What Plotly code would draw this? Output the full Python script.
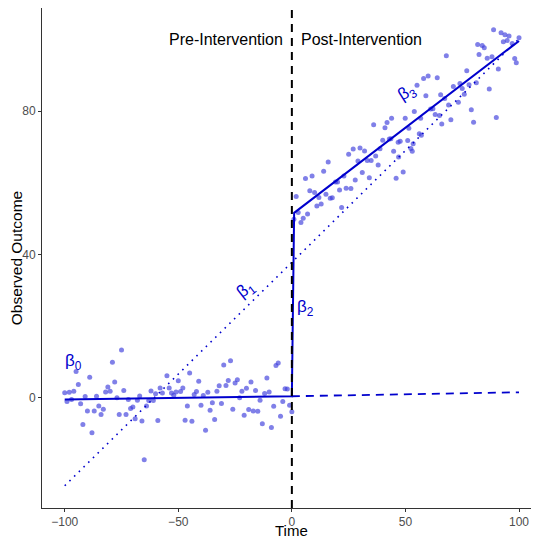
import plotly.graph_objects as go

# ---- data ----
pre_time = [-100, -99, -98, -97, -96, -95, -94, -93, -92, -91, -90, -89, -88, -87, -86, -85, -84, -83, -82, -81,
            -80, -79, -78, -77, -76, -75, -74, -73, -72, -71, -70, -69, -68, -67, -66, -65, -64, -63, -62, -61,
            -60, -59, -58, -57, -55, -54, -53, -52, -51, -50, -49, -48, -47, -46, -45, -44, -43, -42, -41, -40,
            -39, -38, -37, -36, -35, -34, -33, -32, -31, -30, -29, -28, -27, -26, -25, -24, -23, -22, -21, -20,
            -19, -18, -17, -16, -15, -14, -13, -12, -11, -10, -9, -8, -7, -6, -5, -4, -3, -2, -1, 0]
pre_outcome = [1.4, -1.1, 1.5, -0.5, 1.8, 7.3, 3.7, -1.7, -7.5, 0.3, -3.7, 5.7, -9.8, -3.7, 0.4, -2.3, -4.7, -3.2, 1.6, 3.0,
               1.8, 9.9, 4.4, 0.0, -4.7, 13.3, 2.0, -4.7, -0.5, -3.0, -2.6, -5.9, -0.7, 0.5, -6.5, -17.3, -2.3, -0.8, 1.9, -0.8,
               1.1, -6.4, 2.7, 1.3, 6.1, 2.7, 1.3, 0.7, 1.6, 4.7, 1.7, 2.7, -6.3, -2.3, 6.9, -6.6, 0.9, 1.7, 4.6, -2.1,
               0.6, -9.1, 1.5, -3.5, -1.4, -6.1, 1.8, 3.3, -1.6, 9.1, 3.4, 4.8, 10.3, -3.2, 4.1, 5.0, 0.0, 1.8, -4.9, 2.6,
               -3.3, 4.4, -3.7, 2.0, -3.8, -0.7, -7.3, 1.2, 5.5, 1.6, -8.3, -2.4, 9.0, 9.7, -5.2, -1.1, 2.5, 2.4, -2.1, -3.9]

post_time = [0.9, 1.9, 2.8, 4.0, 5.0, 6.0, 6.9, 7.9, 8.9, 10.0, 11.0, 11.9, 12.9, 14.0, 15.0, 16.0, 16.9, 17.8, 19.2, 20.1,
             21.0, 21.9, 22.9, 23.9, 25.0, 26.0, 27.0, 27.9, 29.1, 30.0, 31.0, 32.0, 33.2, 34.1, 34.9, 36.0, 36.9, 38.0, 38.8, 40.0,
             41.0, 41.9, 42.9, 43.6, 43.9, 44.8, 45.9, 46.8, 47.0, 47.7, 49.0, 49.9, 51.0, 51.5, 52.4, 53.0, 53.4, 53.9, 55.1, 56.1,
             56.7, 57.0, 58.0, 59.0, 60.0, 61.1, 62.1, 63.1, 64.0, 65.0, 65.5, 66.0, 67.3, 68.0, 69.0, 70.0, 71.1, 73.3, 74.0, 75.0,
             75.9, 77.0, 78.0, 79.0, 80.0, 81.2, 81.8, 82.4, 83.8, 84.7, 86.0, 86.9, 88.1, 88.8, 90.0, 90.9, 92.1, 93.1, 93.8, 94.8,
             95.6, 97.0, 98.1, 98.8, 100.0]
post_outcome = [49.8, 56.2, 51.7, 48.9, 50.1, 61.2, 51.3, 57.8, 61.9, 57.3, 53.5, 55.9, 54.1, 63.2, 56.8, 65.8, 55.7, 55.8, 60.2, 60.2,
                58.0, 53.1, 61.9, 58.5, 68.0, 58.4, 69.4, 60.8, 66.1, 69.7, 62.9, 68.9, 66.2, 61.4, 66.2, 76.2, 67.5, 65.0, 69.5, 71.9,
                75.4, 76.8, 72.2, 72.3, 78.0, 68.8, 61.3, 71.3, 67.2, 71.6, 63.0, 78.0, 71.8, 75.2, 69.6, 68.8, 70.9, 79.9, 87.2, 73.7,
                78.0, 73.3, 89.1, 84.3, 89.8, 80.6, 80.7, 79.1, 89.3, 78.8, 84.6, 76.4, 83.5, 95.5, 81.7, 77.6, 86.9, 82.5, 87.7, 86.3,
                84.7, 91.3, 87.4, 80.4, 76.9, 87.9, 98.6, 95.8, 98.3, 97.7, 94.8, 86.2, 95.2, 102.7, 78.2, 91.8, 101.9, 99.4, 101.3, 99.7,
                101.0, 98.9, 94.7, 93.5, 100.5]

# fitted segmented regression line
fit_time = [-100, 0, 1, 100]
fit_value = [-0.5, 0.4, 51.6, 99.6]
# counterfactual (pre-trend extended)
cf_time = [0, 100]
cf_value = [0.4, 1.5]
# naive single trend
naive_time = [-100, 100]
naive_value = [-24.6, 100.2]

x_ticks = [-100, -50, 0, 50, 100]
y_ticks = [0, 40, 80]

BLUE = "#0000CD"
FONT = "Liberation Sans, Arial, sans-serif"

fig = go.Figure()
fig.add_trace(go.Scatter(x=pre_time + post_time, y=pre_outcome + post_outcome, mode="markers",
                         marker=dict(size=5, color="rgba(60,60,220,0.65)", line=dict(width=0)),
                         hoverinfo="skip"))
fig.add_trace(go.Scatter(x=naive_time, y=naive_value, mode="lines",
                         line=dict(color=BLUE, width=1.6, dash="1.6px,5px")))
fig.add_trace(go.Scatter(x=cf_time, y=cf_value, mode="lines",
                         line=dict(color=BLUE, width=1.8, dash="8px,6px")))
fig.add_trace(go.Scatter(x=fit_time, y=fit_value, mode="lines",
                         line=dict(color=BLUE, width=2)))

fig.add_shape(type="line", x0=0, x1=0, xref="x", y0=0, y1=1, yref="paper",
              line=dict(color="black", width=2, dash="8px,6px"))

fig.add_annotation(x=-3, y=100, text="Pre-Intervention", showarrow=False, xanchor="right",
                   font=dict(size=16, color="black", family=FONT))
fig.add_annotation(x=3, y=100, text="Post-Intervention", showarrow=False, xanchor="left",
                   font=dict(size=16, color="black", family=FONT))

beta_labels = ["β<sub>0</sub>", "β<sub>1</sub>", "β<sub>2</sub>", "β<sub>3</sub>"]
beta_x = [-96, -20, 6, 51]
beta_y = [10, 30, 25, 85]
beta_angle = [0, -38, 0, -32]
for t, bx, by, ang in zip(beta_labels, beta_x, beta_y, beta_angle):
    fig.add_annotation(x=bx, y=by, text=t, showarrow=False, textangle=ang,
                       font=dict(size=17, color=BLUE, family=FONT))

# x-axis title placed below the tick labels
fig.add_annotation(x=0, xref="x", y=0, yref="paper", yanchor="top", yshift=-13,
                   text="Time", showarrow=False, borderpad=0,
                   font=dict(size=15, color="black", family=FONT))

fig.update_layout(
    width=531, height=529,
    margin=dict(l=34, r=0, t=0, b=29, autoexpand=False),
    paper_bgcolor="white", plot_bgcolor="white",
    showlegend=False,
    font=dict(family=FONT),
)
fig.update_xaxes(range=[-110, 108.8], tickvals=x_ticks, showgrid=False, zeroline=False, automargin=False,
                 showline=True, linecolor="#333333", linewidth=1, ticks="outside", ticklen=3,
                 tickcolor="#333333", tickfont=dict(size=12, color="#4D4D4D"))
fig.update_yaxes(range=[-30.8, 108.8], tickvals=y_ticks, showgrid=False, zeroline=False, automargin=False,
                 showline=True, linecolor="#333333", linewidth=1, ticks="outside", ticklen=3,
                 tickcolor="#333333", tickfont=dict(size=12, color="#4D4D4D"),
                 title=dict(text="Observed Outcome", font=dict(size=15.5, color="black")))

fig.write_html("out.html")
